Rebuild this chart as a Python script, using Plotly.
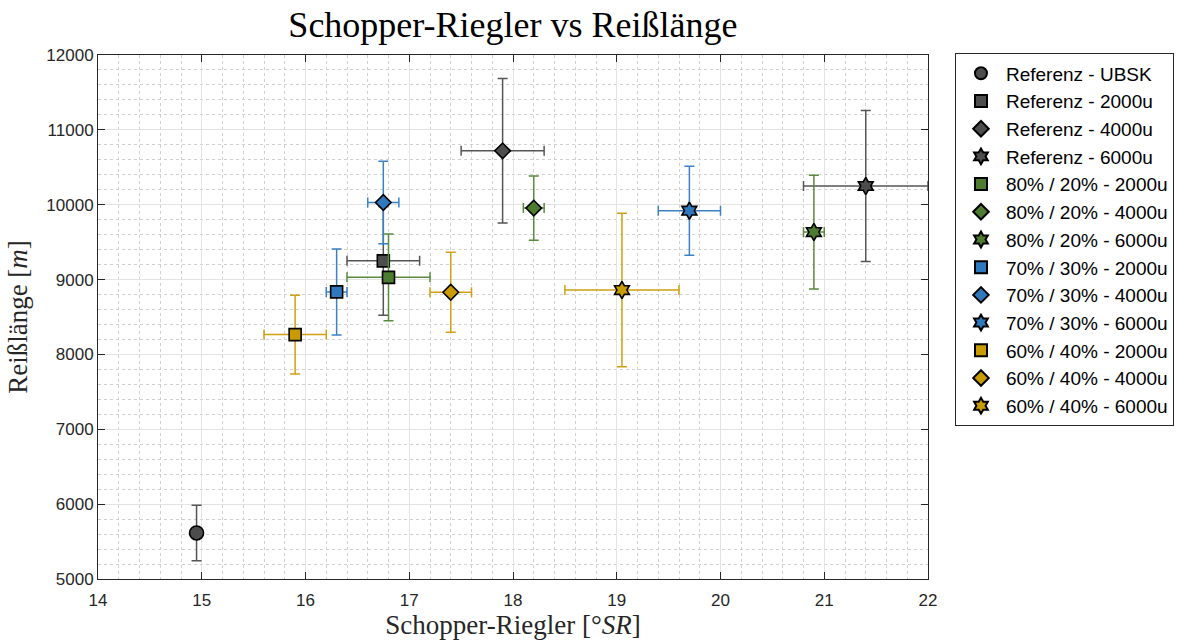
import plotly.graph_objects as go

names = ["Referenz - UBSK", "Referenz - 2000u", "Referenz - 4000u", "Referenz - 6000u",
         "80% / 20% - 2000u", "80% / 20% - 4000u", "80% / 20% - 6000u",
         "70% / 30% - 2000u", "70% / 30% - 4000u", "70% / 30% - 6000u",
         "60% / 40% - 2000u", "60% / 40% - 4000u", "60% / 40% - 6000u"]
sr_values = [14.95, 16.75, 17.90, 21.40,
             16.80, 18.20, 20.90,
             16.30, 16.75, 19.70,
             15.90, 17.40, 19.05]
sr_errors = [0.0, 0.35, 0.40, 0.60,
             0.40, 0.10, 0.10,
             0.10, 0.15, 0.30,
             0.30, 0.20, 0.55]
rl_values = [5615, 9250, 10720, 10250,
             9030, 9955, 9635,
             8835, 10030, 9920,
             8265, 8830, 8860]
rl_errors = [370, 725, 965, 1010,
             580, 430, 760,
             575, 550, 595,
             525, 535, 1025]
groups = ["ref", "ref", "ref", "ref",
          "g80", "g80", "g80",
          "g70", "g70", "g70",
          "g60", "g60", "g60"]
symbols = ["circle", "square", "diamond", "hexagram",
           "square", "diamond", "hexagram",
           "square", "diamond", "hexagram",
           "square", "diamond", "hexagram"]

fill_colors = {"ref": "#4d4d4d", "g80": "#4d7c30", "g70": "#2e78bd", "g60": "#c99b00"}
bar_colors = {"ref": "#555555", "g80": "#5a8a3c", "g70": "#3a82c4", "g60": "#d0a010"}
sym_sizes = {"circle": 14, "square": 12, "diamond": 12, "hexagram": 13}

fig = go.Figure()
for i, n in enumerate(names):
    g = groups[i]
    fig.add_trace(go.Scatter(
        x=[sr_values[i]], y=[rl_values[i]], name=n, mode="markers",
        marker=dict(symbol=symbols[i], size=sym_sizes[symbols[i]], color=fill_colors[g],
                    line=dict(color="black", width=1.6)),
        error_x=dict(type="data", array=[sr_errors[i]], color=bar_colors[g],
                     thickness=1.5, width=5, visible=sr_errors[i] > 0),
        error_y=dict(type="data", array=[rl_errors[i]], color=bar_colors[g],
                     thickness=1.5, width=5),
    ))

tick_font = dict(family="Liberation Sans, Arial, sans-serif", size=17, color="#262626")
serif = "Liberation Serif, DejaVu Serif, serif"
axis_common = dict(
    showline=True, linecolor="#262626", linewidth=1, mirror="ticks",
    ticks="inside", ticklen=7, tickcolor="#262626", tickwidth=1,
    showgrid=True, gridcolor="#e3e3e3", gridwidth=1, zeroline=False,
    tickfont=tick_font, automargin=False,
)

fig.update_layout(
    width=1186, height=642,
    margin=dict(l=98, r=258, t=55, b=63, autoexpand=False),
    paper_bgcolor="white", plot_bgcolor="white",
    title=dict(text="Schopper-Riegler vs Reißlänge", x=0.4325, xanchor="center",
               y=0.962, yanchor="middle",
               font=dict(family=serif, size=36, color="black")),
    xaxis=dict(range=[14, 22], dtick=1, ticklabelstandoff=6, **axis_common,
               minor=dict(dtick=0.2, showgrid=True, griddash="dot", gridcolor="#d0d0d0",
                          ticks=""),
               title=dict(text="Schopper-Riegler [°<i>SR</i>]", standoff=4,
                          font=dict(family=serif, size=27, color="#262626"))),
    yaxis=dict(range=[5000, 12000], dtick=1000, tickformat="d", **axis_common,
               minor=dict(dtick=200, showgrid=True, griddash="dot", gridcolor="#d0d0d0",
                          ticks=""),
               title=dict(text="Reißlänge [<i>m</i>]", standoff=10,
                          font=dict(family=serif, size=27, color="#262626"))),
    legend=dict(x=1.0325, y=1.003, xanchor="left", yanchor="top",
                bordercolor="#262626", borderwidth=1, bgcolor="white",
                font=dict(family="Liberation Sans, Arial, sans-serif", size=19, color="black"),
                tracegroupgap=0, itemsizing="constant", itemwidth=40, maxheight=600),
    showlegend=True,
)

fig.write_html("out.html")
